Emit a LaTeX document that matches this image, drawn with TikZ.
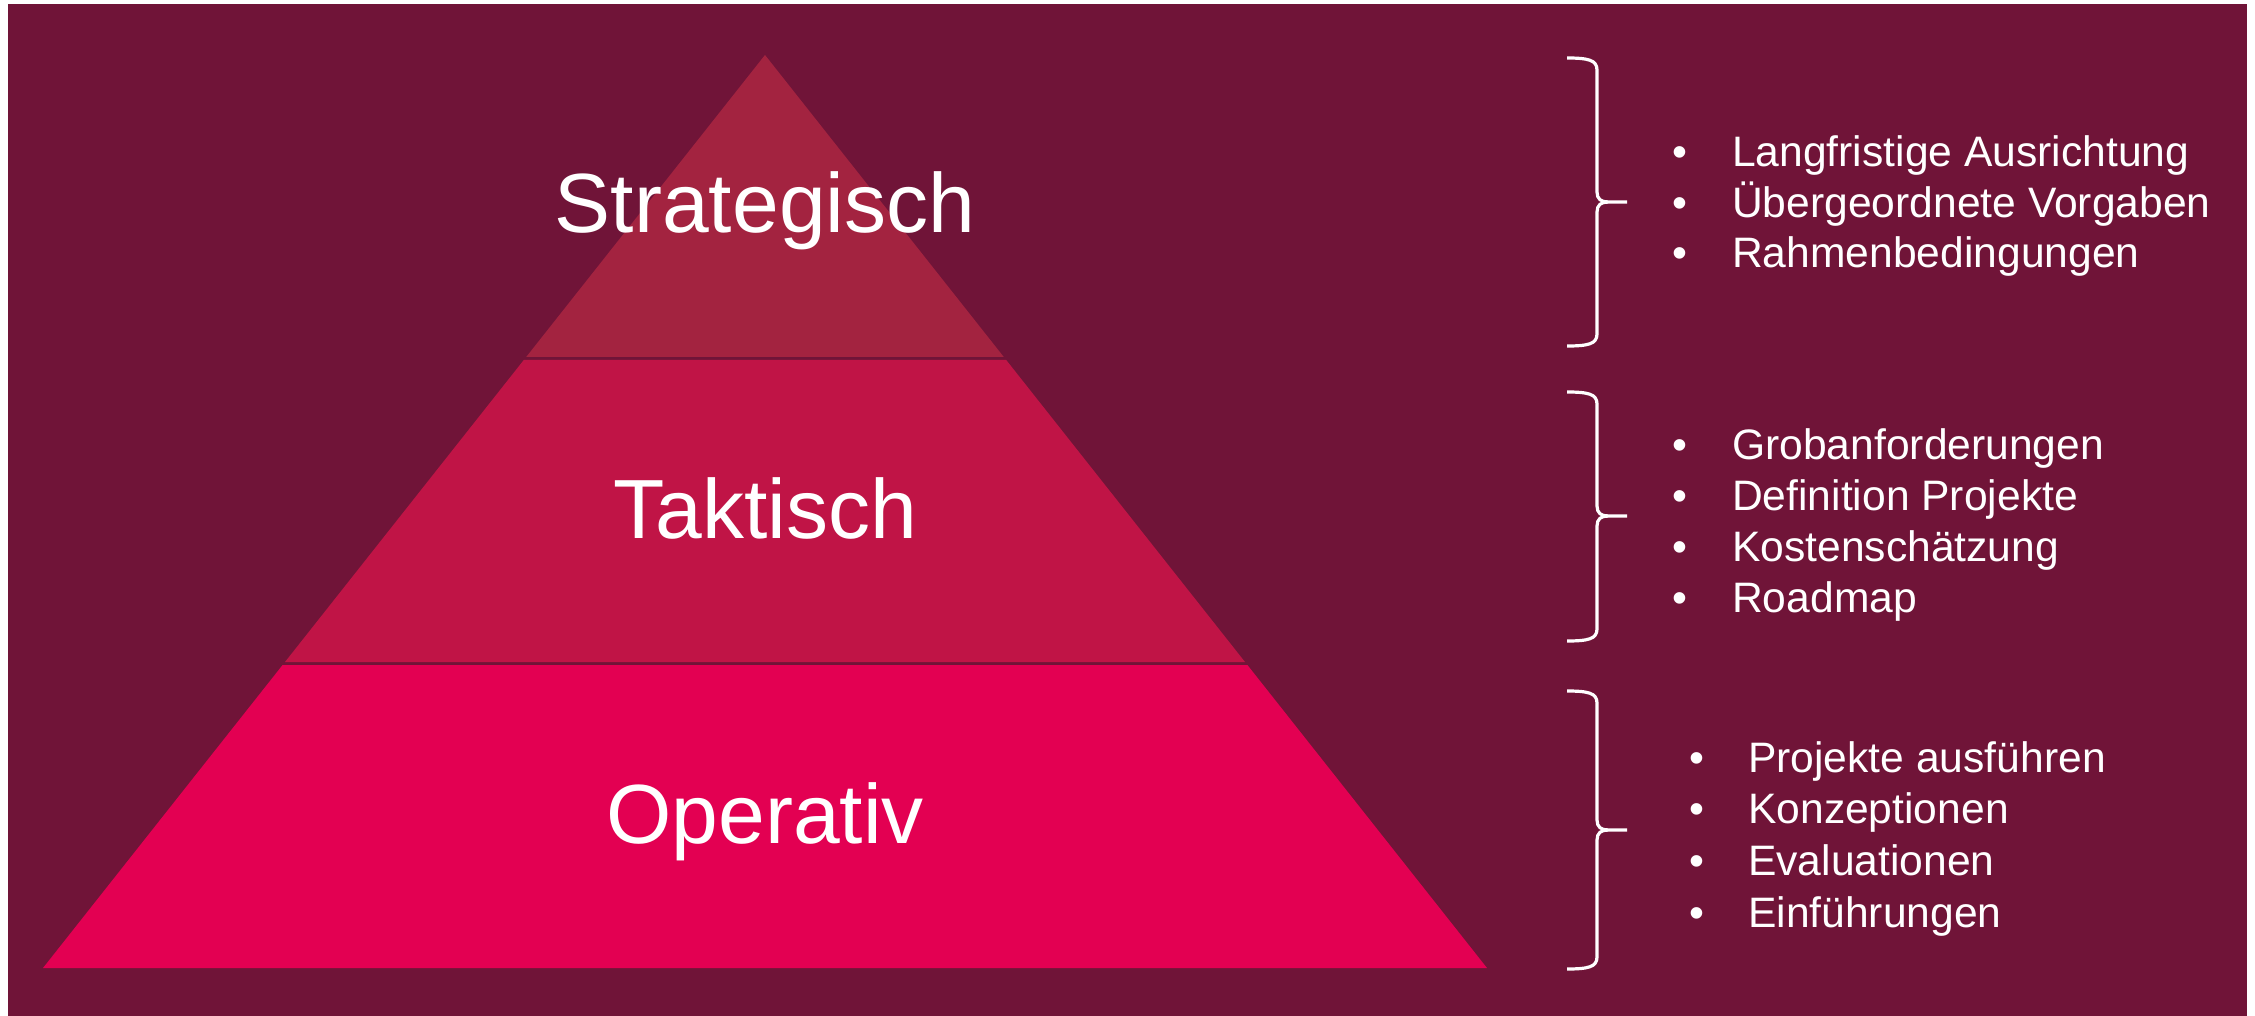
\documentclass[tikz,border=0pt]{standalone}
\usepackage{fontspec}
\setmainfont{Liberation Sans}
\definecolor{bg}{HTML}{701438}
\definecolor{cstrat}{HTML}{A32340}
\definecolor{ctakt}{HTML}{C01446}
\definecolor{coper}{HTML}{E30052}
\newcommand\mybrace[3]{%
  \draw[brace] (1567,#1) .. controls (1588,#1) and (1597,{#1+2}) .. (1597,{#1+12})
     -- (1597,{#2-10}) .. controls (1597,{#2-3}) and (1601,#2) .. (1608,#2) -- (1627,#2);
  \draw[brace] (1608,#2) .. controls (1601,#2) and (1597,{#2+3}) .. (1597,{#2+10})
     -- (1597,{#3-12}) .. controls (1597,{#3-2}) and (1588,#3) .. (1567,#3);}
\begin{document}
\begin{tikzpicture}[x=1pt,y=-1pt,
  lvl/.style={text=white, font=\fontsize{84}{100}\selectfont, inner sep=0pt, anchor=base},
  item/.style={text=white, font=\fontsize{42.6}{50}\selectfont, inner sep=0pt, anchor=base west},
  bul/.style={text=white, font=\fontsize{42.6}{50}\selectfont, inner sep=0pt, anchor=base},
  brace/.style={draw=white, line width=3.2pt, line cap=butt, line join=round}]
\useasboundingbox (0,0) rectangle (2255,1016);
\fill[white] (0,0) rectangle (2255,1016);
\fill[bg] (8,4) rectangle (2247,1016);
% pyramid bands
\fill[cstrat] (765,55) -- (1003.8,357) -- (526.2,357) -- cycle;
\fill[ctakt] (523.8,360) -- (1006.2,360) -- (1245,662) -- (285,662) -- cycle;
\fill[coper] (282.6,665) -- (1247.4,665) -- (1487,968) -- (43,968) -- cycle;
% level labels
\node[lvl] (strat) at (765,233) {Strategisch};
\node[lvl] (takt) at (765,538) {Taktisch};
\node[lvl] (oper) at (765,843) {Operativ};
% braces
\mybrace{58}{202}{346}
\mybrace{392}{516}{641}
\mybrace{691}{830}{969}
% lists
\foreach \t [count=\i from 0] in {Langfristige Ausrichtung, Übergeordnete Vorgaben, Rahmenbedingungen}{
  \node[bul] (ba\i) at (1680,{167+50.5*\i}) {•};
  \node[item] (ta\i) at (1732,{167+50.5*\i}) {\t};
}
\foreach \t [count=\i from 0] in {Grobanforderungen, Definition Projekte, Kostenschätzung, Roadmap}{
  \node[bul] (bb\i) at (1680,{459+51.2*\i}) {•};
  \node[item] (tb\i) at (1732,{459+51.2*\i}) {\t};
}
\foreach \t [count=\i from 0] in {Projekte ausführen, Konzeptionen, Evaluationen, Einführungen}{
  \node[bul] (bc\i) at (1697,{772+51.7*\i}) {•};
  \node[item] (tc\i) at (1748,{772+51.7*\i}) {\t};
}
\end{tikzpicture}
\end{document}
